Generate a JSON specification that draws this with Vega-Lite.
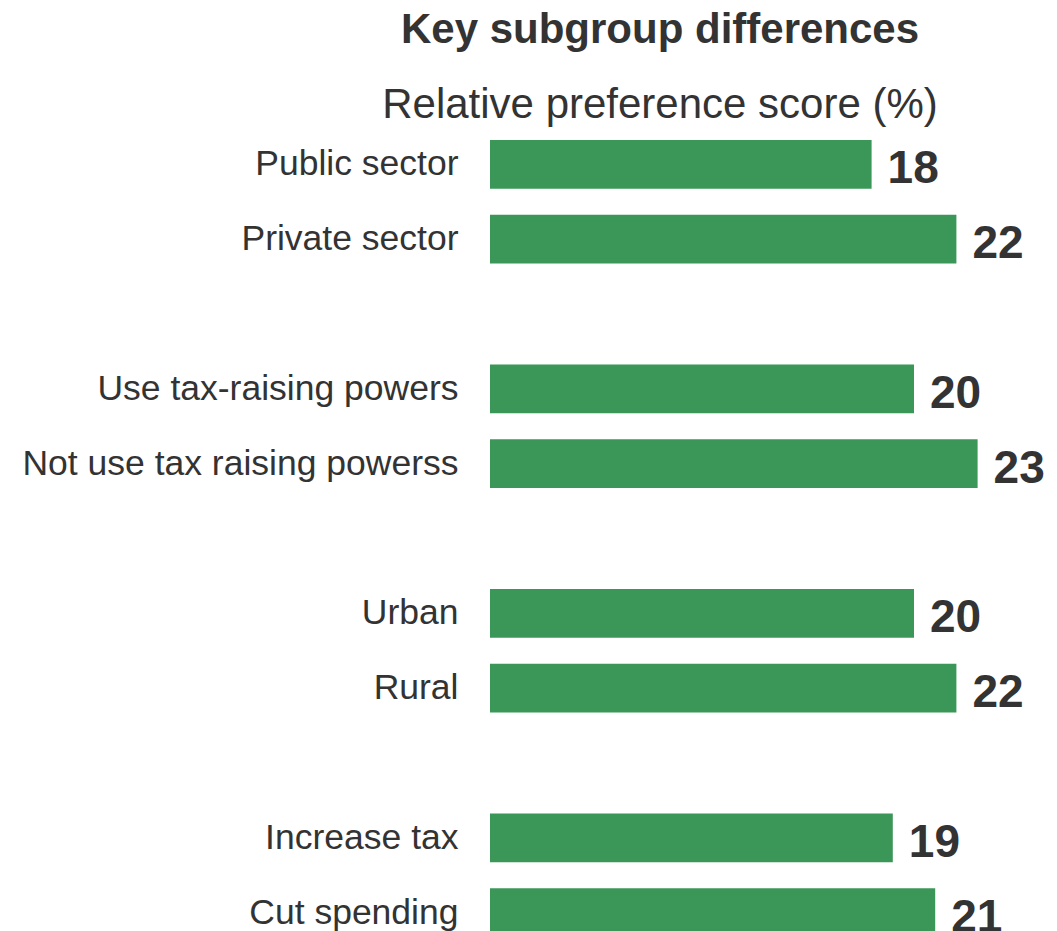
{
  "$schema": "https://vega.github.io/schema/vega-lite/v6.json",
  "autosize": {"type": "none"},
  "padding": {"left": 490, "top": 140, "right": 37, "bottom": 0},
  "width": 530,
  "height": 797,
  "background": "white",
  "title": {
    "text": "Key subgroup differences",
    "subtitle": "Relative preference score (%)",
    "anchor": "middle",
    "dx": -95,
    "offset": 13,
    "font": "Liberation Sans",
    "fontSize": 42,
    "fontWeight": "bold",
    "color": "#333333",
    "subtitleFont": "Liberation Sans",
    "subtitleFontSize": 42,
    "subtitleColor": "#333333",
    "subtitleFontWeight": "normal",
    "subtitlePadding": 33
  },
  "data": {
    "values": [
      {"group": "Public sector", "score": 18},
      {"group": "Private sector", "score": 22},
      {"group": "Use tax-raising powers", "score": 20},
      {"group": "Not use tax raising powerss", "score": 23},
      {"group": "Urban", "score": 20},
      {"group": "Rural", "score": 22},
      {"group": "Increase tax", "score": 19},
      {"group": "Cut spending", "score": 21}
    ]
  },
  "encoding": {
    "y": {
      "field": "group",
      "type": "nominal",
      "sort": null,
      "scale": {
        "domain": ["Public sector", "Private sector", " ", "Use tax-raising powers", "Not use tax raising powerss", "  ", "Urban", "Rural", "   ", "Increase tax", "Cut spending"],
        "paddingInner": 0.35,
        "paddingOuter": 0
      },
      "axis": {
        "title": null,
        "domain": false,
        "ticks": false,
        "grid": false,
        "labelPadding": 32,
        "labelFont": "Liberation Sans",
        "labelFontSize": 35.5,
        "labelColor": "#333333",
        "labelLimit": 0
      }
    },
    "x": {
      "field": "score",
      "type": "quantitative",
      "scale": {"domain": [0, 25], "nice": false},
      "axis": null
    }
  },
  "layer": [
    {"mark": {"type": "bar", "color": "#3B9757"}},
    {
      "mark": {
        "type": "text",
        "align": "left",
        "baseline": "middle",
        "dx": 16,
        "dy": 5,
        "font": "Liberation Sans",
        "fontSize": 46,
        "fontWeight": "bold",
        "color": "#333333"
      },
      "encoding": {"text": {"field": "score", "type": "quantitative"}}
    }
  ],
  "config": {"view": {"stroke": null}}
}
